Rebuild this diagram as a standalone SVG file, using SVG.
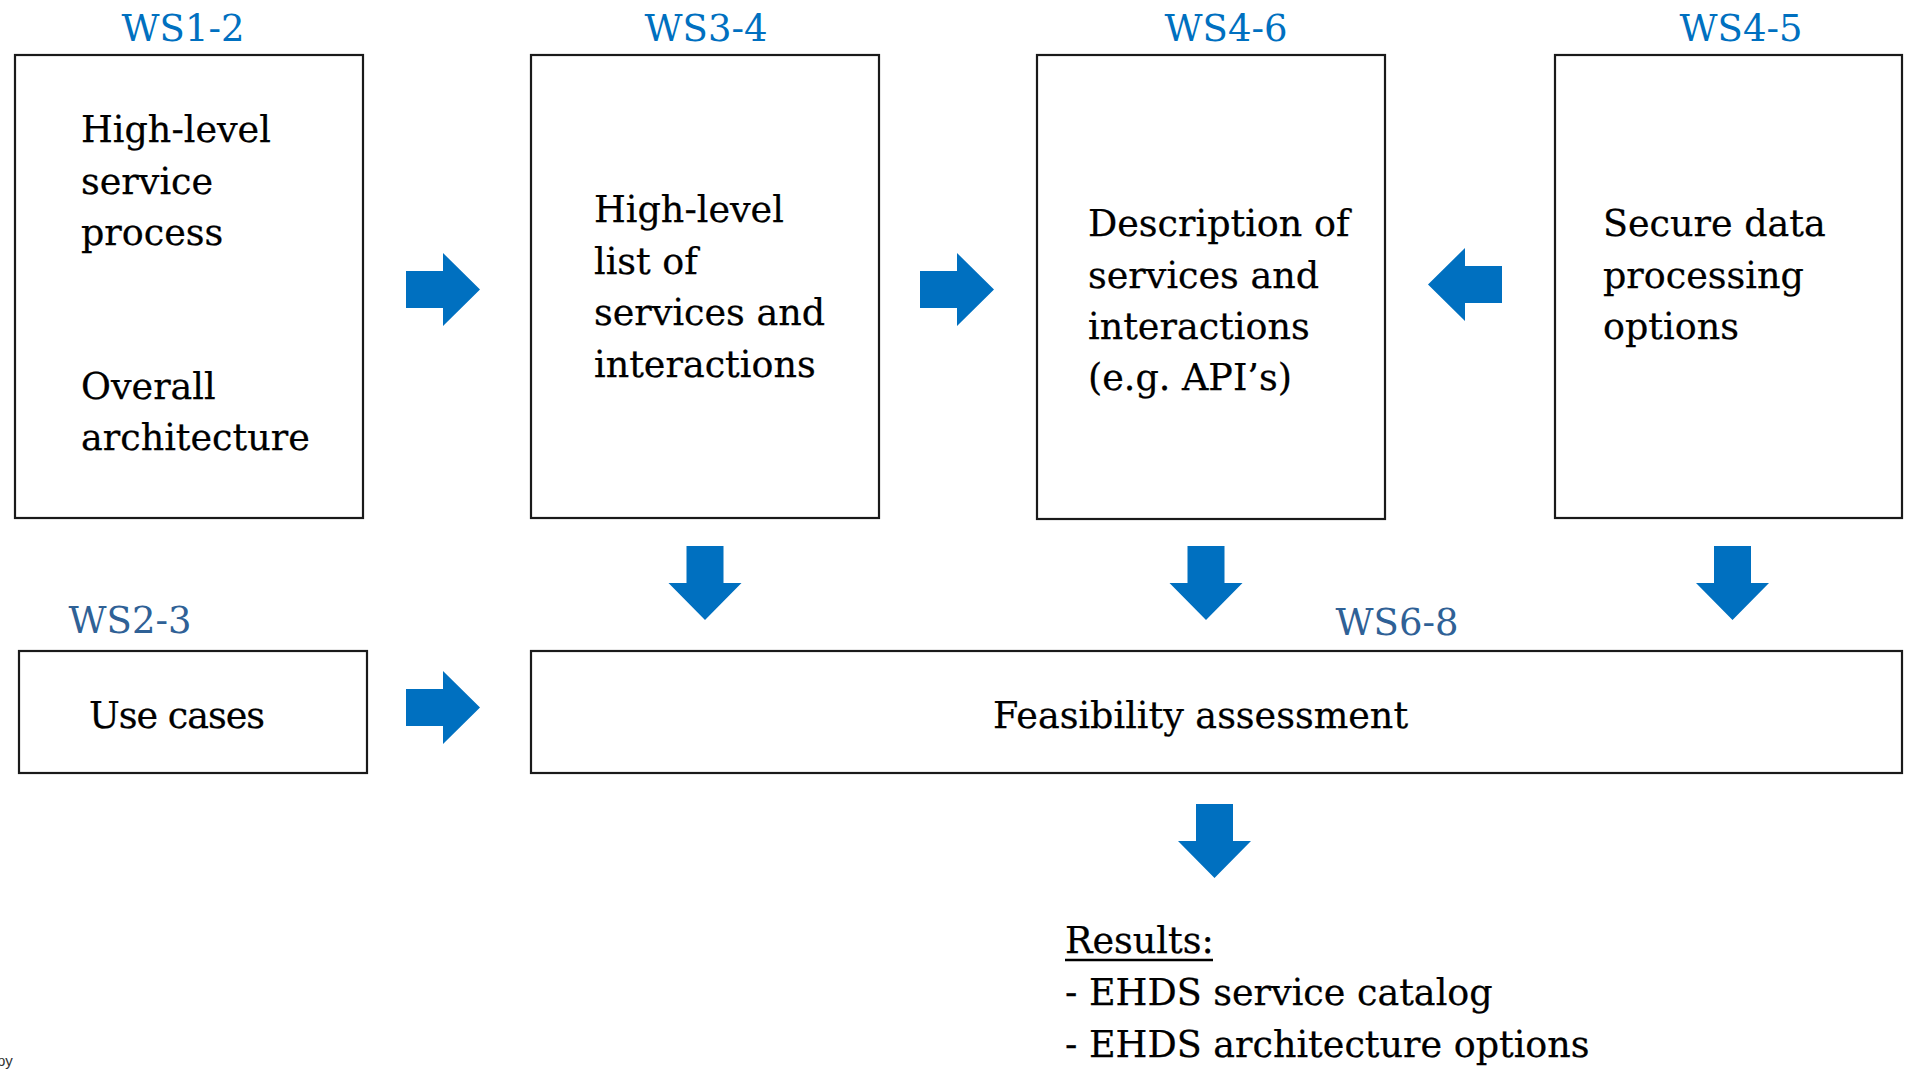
<svg xmlns="http://www.w3.org/2000/svg" xmlns:xlink="http://www.w3.org/1999/xlink" width="1908" height="1074" viewBox="0 0 1908 1074">
  <style>
    .box { fill: #ffffff; stroke: #1a1a1a; stroke-width: 2.2; }
    .txt { font-family: "DejaVu Serif", "Liberation Serif", serif; font-size: 36.5px; fill: #000000; stroke: #000000; stroke-width: 0.25; }
    .ws { font-family: "DejaVu Serif", "Liberation Serif", serif; font-size: 37px; fill: #0070C0; text-anchor: middle; }
    .ws2 { fill: #2F6196; }
    .arrow { fill: #0070C0; }
    .note { font-family: "Liberation Sans", Arial, sans-serif; font-size: 15px; fill: #333333; }
  </style>
  <defs>
    <!-- block arrow pointing right, tip at the origin -->
    <path id="arrowR" d="M-74,-18.5 H-37 V-36.5 L0,0 L-37,36.5 V18.5 H-74 Z"/>
  </defs>
  <rect width="1908" height="1074" fill="#ffffff"/>

  <!-- workstream stages -->
  <g id="node-ws1-2">
    <text class="ws" x="183" y="41">WS1-2</text>
    <rect class="box" x="15" y="55" width="348" height="463"/>
    <text class="txt" x="81" y="141.5">High-level</text>
    <text class="txt" x="81" y="193.5">service</text>
    <text class="txt" x="81" y="245">process</text>
    <text class="txt" x="81" y="398.5">Overall</text>
    <text class="txt" x="81" y="450">architecture</text>
  </g>

  <g id="node-ws3-4">
    <text class="ws" x="706" y="41">WS3-4</text>
    <rect class="box" x="531" y="55" width="348" height="463"/>
    <text class="txt" x="594" y="222">High-level</text>
    <text class="txt" x="594" y="273.5">list of</text>
    <text class="txt" x="594" y="325">services and</text>
    <text class="txt" x="594" y="376.5">interactions</text>
  </g>

  <g id="node-ws4-6">
    <text class="ws" x="1226" y="41">WS4-6</text>
    <rect class="box" x="1037" y="55" width="348" height="464"/>
    <text class="txt" x="1088" y="236">Description of</text>
    <text class="txt" x="1088" y="287.5">services and</text>
    <text class="txt" x="1088" y="339">interactions</text>
    <text class="txt" x="1088" y="390">(e.g. API’s)</text>
  </g>

  <g id="node-ws4-5">
    <text class="ws" x="1741" y="41">WS4-5</text>
    <rect class="box" x="1555" y="55" width="347" height="463"/>
    <text class="txt" x="1603" y="236">Secure data</text>
    <text class="txt" x="1603" y="287.5">processing</text>
    <text class="txt" x="1603" y="339">options</text>
  </g>

  <g id="node-ws2-3">
    <text class="ws ws2" x="130" y="633">WS2-3</text>
    <rect class="box" x="19" y="651" width="348" height="122"/>
    <text class="txt" x="89" y="728" textLength="176" lengthAdjust="spacing">Use cases</text>
  </g>

  <g id="node-ws6-8">
    <text class="ws ws2" x="1397" y="635">WS6-8</text>
    <rect class="box" x="531" y="651" width="1371" height="122"/>
    <text class="txt" x="993" y="728">Feasibility assessment</text>
  </g>

  <g id="node-results">
    <text class="txt" x="1065" y="953">Results:</text>
    <line x1="1065" y1="960" x2="1213" y2="960" stroke="#000000" stroke-width="2.5"/>
    <text class="txt" x="1065" y="1005">- EHDS service catalog</text>
    <text class="txt" x="1065" y="1057">- EHDS architecture options</text>
  </g>

  <!-- flow arrows -->
  <g id="connectors" class="arrow">
    <use xlink:href="#arrowR" transform="translate(480,289.5)"/>
    <use xlink:href="#arrowR" transform="translate(994,289.5)"/>
    <use xlink:href="#arrowR" transform="translate(1428,284.5) rotate(180)"/>
    <use xlink:href="#arrowR" transform="translate(480,707.5)"/>
    <use xlink:href="#arrowR" transform="translate(705,620) rotate(90)"/>
    <use xlink:href="#arrowR" transform="translate(1206,620) rotate(90)"/>
    <use xlink:href="#arrowR" transform="translate(1732.5,620) rotate(90)"/>
    <use xlink:href="#arrowR" transform="translate(1214.5,878) rotate(90)"/>
  </g>

  <text class="note" x="-3" y="1066">py</text>
</svg>
